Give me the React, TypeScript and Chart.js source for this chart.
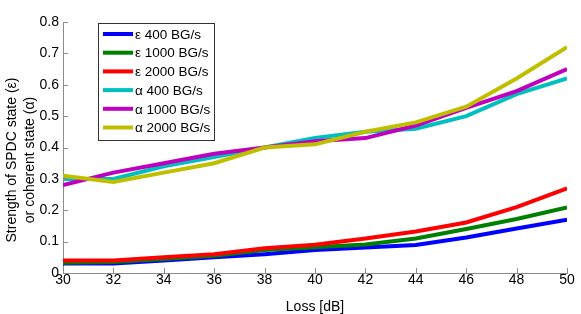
import React, { useEffect, useRef } from "react";
import { Chart, registerables } from "chart.js";

Chart.register(...registerables);

const lossDb = [30, 32, 34, 36, 38, 40, 42, 44, 46, 48, 50];
const eps400 = [0.03, 0.03, 0.04, 0.05, 0.06, 0.073, 0.081, 0.089, 0.113, 0.142, 0.17];
const eps1000 = [0.033, 0.035, 0.045, 0.055, 0.073, 0.082, 0.091, 0.11, 0.14, 0.172, 0.209];
const eps2000 = [0.04, 0.04, 0.05, 0.06, 0.079, 0.09, 0.11, 0.132, 0.161, 0.21, 0.27];
const alpha400 = [0.30, 0.30, 0.34, 0.37, 0.40, 0.43, 0.45, 0.46, 0.50, 0.57, 0.62];
const alpha1000 = [0.28, 0.32, 0.35, 0.38, 0.40, 0.42, 0.43, 0.47, 0.526, 0.58, 0.65];
const alpha2000 = [0.31, 0.29, 0.32, 0.35, 0.40, 0.41, 0.45, 0.48, 0.53, 0.62, 0.72];

const seriesLabels = [
  "ε 400 BG/s",
  "ε 1000 BG/s",
  "ε 2000 BG/s",
  "α 400 BG/s",
  "α 1000 BG/s",
  "α 2000 BG/s",
];
const seriesColors = ["#0000ff", "#008000", "#ff0000", "#00bfbf", "#bf00bf", "#bfbf00"];
const seriesValues = [eps400, eps1000, eps2000, alpha400, alpha1000, alpha2000];

const yTitle = ["Strength of SPDC state (ε)", "or coherent state (α)"];
const xTitle = "Loss [dB]";

const FONT = "'Liberation Sans', Arial, Helvetica, sans-serif";
const AXIS_COLOR = "#8c8c8c";

const innerTicks = {
  id: "innerTicks",
  afterDraw(chart: any) {
    const { ctx, chartArea, scales } = chart;
    ctx.save();
    ctx.strokeStyle = AXIS_COLOR;
    ctx.lineWidth = 1;
    ctx.beginPath();
    for (const t of scales.y.ticks) {
      const y = Math.round(scales.y.getPixelForValue(t.value)) + 0.5;
      ctx.moveTo(chartArea.left, y);
      ctx.lineTo(chartArea.left + 5, y);
    }
    for (const t of scales.x.ticks) {
      const x = Math.round(scales.x.getPixelForValue(t.value)) + 0.5;
      ctx.moveTo(x, chartArea.bottom);
      ctx.lineTo(x, chartArea.bottom - 5);
    }
    ctx.stroke();
    ctx.restore();
  },
};

const yTitlePlugin = {
  id: "yTitlePlugin",
  afterDraw(chart: any) {
    const { ctx } = chart;
    ctx.save();
    ctx.font = `14px ${FONT}`;
    ctx.fillStyle = "#000";
    ctx.textAlign = "center";
    ctx.textBaseline = "middle";
    ctx.translate(0, 160);
    ctx.rotate(-Math.PI / 2);
    yTitle.forEach((line, i) => {
      ctx.fillText(line, 0, 12.5 + i * 18);
    });
    ctx.restore();
  },
};

const boxLegend = {
  id: "boxLegend",
  afterDraw(chart: any) {
    const { ctx, chartArea } = chart;
    const left = chartArea.left + 35;
    const top = chartArea.top + 0.5;
    const w = 116;
    const rowH = 18.7;
    const h = 117;
    ctx.save();
    ctx.fillStyle = "#ffffff";
    ctx.fillRect(left, top, w, h);
    ctx.strokeStyle = "#333333";
    ctx.lineWidth = 1;
    ctx.strokeRect(Math.round(left) + 0.5, Math.round(top) + 0.5, w, h);
    ctx.font = `13.5px ${FONT}`;
    ctx.textBaseline = "middle";
    ctx.textAlign = "left";
    chart.data.datasets.forEach((ds: any, i: number) => {
      const y = top + 11.5 + i * rowH;
      ctx.strokeStyle = ds.borderColor;
      ctx.lineWidth = 4;
      ctx.beginPath();
      ctx.moveTo(left + 5, y);
      ctx.lineTo(left + 35, y);
      ctx.stroke();
      ctx.fillStyle = "#000000";
      ctx.fillText(ds.label, left + 37, y + 1);
    });
    ctx.restore();
  },
};

export default function App() {
  const ref = useRef<HTMLCanvasElement | null>(null);

  useEffect(() => {
    document.body.style.margin = "0";
    const canvas = ref.current;
    if (!canvas) return;
    const datasets = seriesValues.map((vals, i) => ({
      label: seriesLabels[i],
      data: vals.map((v, j) => ({ x: lossDb[j], y: v })),
      borderColor: seriesColors[i],
      backgroundColor: seriesColors[i],
      borderWidth: 4,
      pointRadius: 0,
      tension: 0,
      fill: false,
      order: seriesValues.length - i,
    }));
    const chart = new Chart(canvas, {
      type: "line",
      data: { datasets },
      options: {
        animation: false,
        responsive: false,
        devicePixelRatio: 1,
        layout: { padding: { top: 22, right: 14, left: 0, bottom: 0 } },
        plugins: { legend: { display: false }, tooltip: { enabled: false } },
        scales: {
          x: {
            type: "linear",
            min: 30,
            max: 50,
            afterFit: (s: any) => {
              s.height = 41;
            },
            ticks: {
              stepSize: 2,
              color: "#000",
              font: { family: FONT, size: 14 },
              padding: -1,
              maxRotation: 0,
            },
            grid: { display: false, drawTicks: false },
            border: { display: true, color: AXIS_COLOR, width: 1 },
            title: {
              display: true,
              text: xTitle,
              color: "#000",
              font: { family: FONT, size: 14, lineHeight: 1.05 },
              padding: { top: 0, bottom: 0 },
            },
          },
          y: {
            type: "linear",
            min: 0,
            max: 0.8,
            afterFit: (s: any) => {
              s.width = 63;
            },
            ticks: {
              stepSize: 0.1,
              color: "#000",
              font: { family: FONT, size: 14 },
              padding: 4,
            },
            grid: { display: false, drawTicks: false },
            border: { display: true, color: AXIS_COLOR, width: 1 },
            title: { display: false },
          },
        },
      },
      plugins: [innerTicks, boxLegend, yTitlePlugin],
    });
    return () => chart.destroy();
  }, []);

  return (
    <div style={{ position: "absolute", left: 0, top: 0, width: 581, height: 314, background: "#fff" }}>
      <canvas ref={ref} width={581} height={314} style={{ display: "block" }} />
    </div>
  );
}
